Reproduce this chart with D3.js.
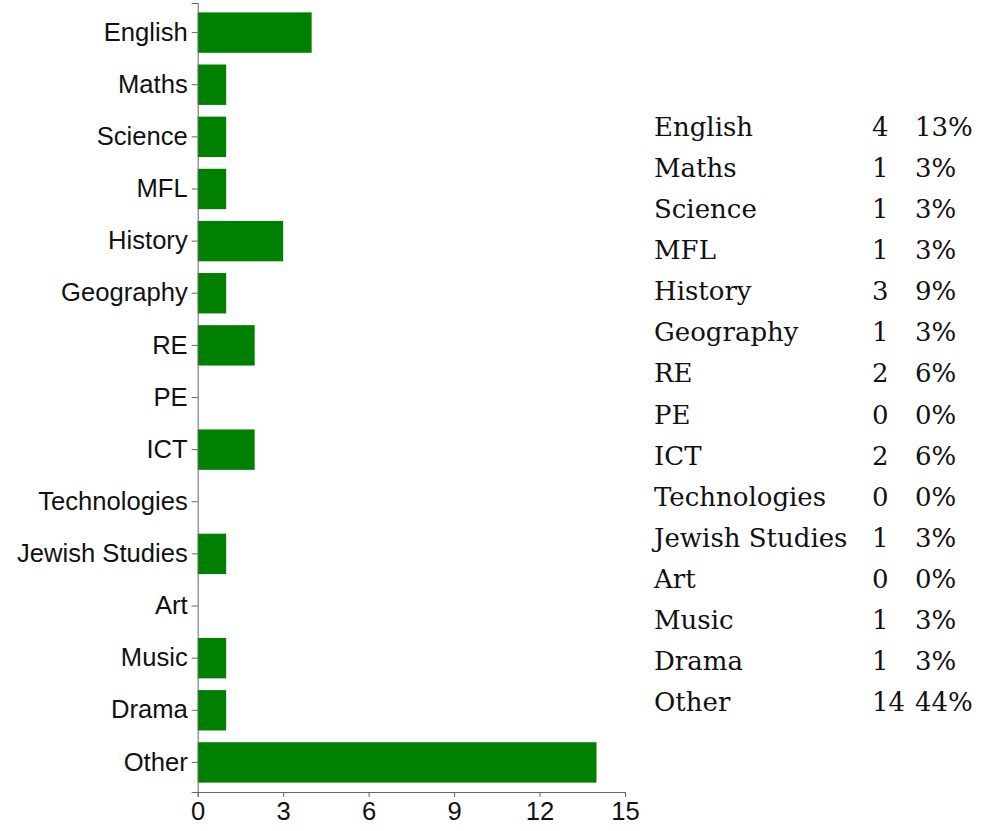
<!DOCTYPE html>
<html>
<head>
<meta charset="utf-8">
<script src="https://cdn.jsdelivr.net/npm/d3@7"></script>
<style>
   body { margin: 0; background: #fff; }
   .axis text { font-family: "Liberation Sans", Arial, sans-serif; font-size: 25.6px; fill: #111; }
   .axis path, .axis line { stroke: #666; }
   .table text { font-family: "DejaVu Serif", serif; font-size: 26px; fill: #111; }
</style>
</head>
<body>
<div id="chart"></div>
<script>
// subjects, counts and the percentages shown in the table
var subjects = ["English", "Maths", "Science", "MFL", "History", "Geography", "RE", "PE",
   "ICT", "Technologies", "Jewish Studies", "Art", "Music", "Drama", "Other"];
var counts = [4, 1, 1, 1, 3, 1, 2, 0, 2, 0, 1, 0, 1, 1, 14];
var percents = ["13%", "3%", "3%", "3%", "9%", "3%", "6%", "0%", "6%", "0%", "3%", "0%", "3%", "3%", "44%"];
var x_ticks = [0, 3, 6, 9, 12, 15];

/**Draws the horizontal bar chart on the left and the text table on the right.
 */
function draw_chart() {

   var svg = d3.select("#chart")
               .append("svg")
               .attr("width", 986)
               .attr("height", 831);

   var x = d3.scaleLinear()
             .domain([0, 15])
             .range([197.7, 625]);

   var y = d3.scaleBand()
             .domain(subjects)
             .range([3, 792])
             .paddingInner(0.225)
             .paddingOuter(0.18);

   svg.append("g")
      .selectAll("rect")
      .data(subjects)
      .enter()
      .append("rect")
      .attr("x", x(0))
      .attr("y", function(d) { return y(d); })
      .attr("width", function(d, i) { return x(counts[i]) - x(0); })
      .attr("height", y.bandwidth())
      .attr("fill", "#008000");

   svg.append("g")
      .classed("axis", true)
      .attr("transform", "translate(" + x(0) + ",0)")
      .call(d3.axisLeft(y).tickSizeOuter(0).tickSize(6).tickPadding(4))
      .call(function(g) { g.selectAll("text").attr("dy", "0.32em"); });

   svg.append("g")
      .classed("axis", true)
      .attr("transform", "translate(0,792)")
      .call(d3.axisBottom(x).tickValues(x_ticks).tickSizeOuter(0).tickSize(5).tickPadding(5));

   // table to the right of the chart
   var row = d3.scaleLinear()
               .domain([0, subjects.length - 1])
               .range([136, 711]);

   var table = svg.append("g").classed("table", true);
   subjects.forEach(function(s, i) {
      table.append("text").attr("x", 654).attr("y", row(i)).text(s);
      var c = table.append("text").attr("x", 872).attr("y", row(i)).text(counts[i]);
      // a two digit count pushes the percentage to the right, as in the original table
      var px = Math.max(915, 872 + c.node().getComputedTextLength() + 3);
      table.append("text").attr("x", px).attr("y", row(i)).text(percents[i]);
   });
}

draw_chart();
</script>
</body>
</html>
